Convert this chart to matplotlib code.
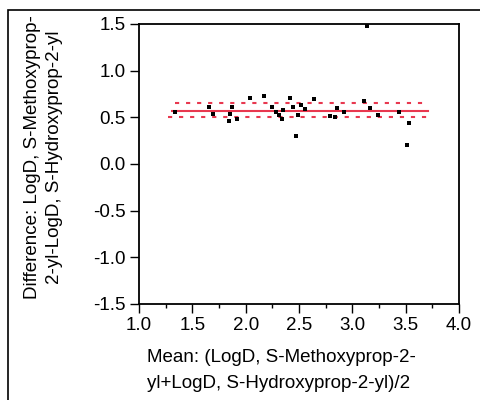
import matplotlib
matplotlib.use("Agg")
import matplotlib.pyplot as plt
from matplotlib.patches import Rectangle
from matplotlib.ticker import MultipleLocator

# Bland-Altman style data (mean vs difference of LogD)
mean_vals = [1.34, 1.66, 1.69, 1.84, 1.85, 1.87, 1.92, 2.04, 2.17, 2.25,
             2.28, 2.31, 2.34, 2.35, 2.42, 2.44, 2.47, 2.49, 2.52, 2.56,
             2.64, 2.79, 2.84, 2.86, 2.92, 3.11, 3.14, 3.17, 3.24, 3.44,
             3.53, 3.51]
diff_vals = [0.56, 0.61, 0.54, 0.46, 0.54, 0.61, 0.48, 0.71, 0.73, 0.61,
             0.56, 0.53, 0.48, 0.58, 0.71, 0.61, 0.30, 0.53, 0.63, 0.59,
             0.70, 0.51, 0.50, 0.60, 0.56, 0.68, 1.48, 0.60, 0.53, 0.56,
             0.44, 0.20]

bias = 0.571
ci_upper = 0.654
ci_lower = 0.504
bias_span = [1.31, 3.71]
upper_span = [1.34, 3.68]
lower_span = [1.27, 3.71]

red = '#e8384f'
plt.rcParams['font.family'] = ['Liberation Sans', 'DejaVu Sans']
fs = 13.5

fig = plt.figure(figsize=(4.8, 4.0), dpi=100)
ax = fig.add_axes([139/480, 96/400, 320/480, 280/400])

ax.plot(bias_span, [bias, bias], color=red, lw=1.5, zorder=2)
ax.plot(upper_span, [ci_upper, ci_upper], color=red, lw=1.5,
        linestyle=(0, (2, 3.3)), zorder=2)
ax.plot(lower_span, [ci_lower, ci_lower], color=red, lw=1.5,
        linestyle=(0, (2, 3.3)), zorder=2)
ax.plot(mean_vals, diff_vals, 's', color='black', markersize=3,
        markeredgewidth=0, zorder=3, clip_on=False)

ax.set_xlim(1.0, 4.0)
ax.set_ylim(-1.5, 1.5)
ax.xaxis.set_major_locator(MultipleLocator(0.5))
ax.xaxis.set_minor_locator(MultipleLocator(0.25))
ax.yaxis.set_major_locator(MultipleLocator(0.5))
ax.xaxis.set_major_formatter(plt.FormatStrFormatter('%.1f'))
ax.yaxis.set_major_formatter(plt.FormatStrFormatter('%.1f'))
ax.tick_params(which='major', direction='out', length=6.5, width=1.0,
               labelsize=fs, pad=3)
ax.tick_params(which='minor', direction='out', length=3, width=1.0)
ax.tick_params(axis='y', which='minor', left=False)
for s in ax.spines.values():
    s.set_linewidth(1.3)

# axis titles, placed line by line
fig.text(147/480, 1 - 357/400, 'Mean: (LogD, S-Methoxyprop-2-',
         ha='left', va='center', fontsize=fs)
fig.text(147/480, 1 - 384/400, 'yl+LogD, S-Hydroxyprop-2-yl)/2',
         ha='left', va='center', fontsize=fs)
fig.text(33/480, 1 - 157/400, 'Difference: LogD, S-Methoxyprop-',
         ha='center', va='center', rotation=90, fontsize=fs)
fig.text(55/480, 1 - 157/400, '2-yl-LogD, S-Hydroxyprop-2-yl',
         ha='center', va='center', rotation=90, fontsize=fs)

# outer frame
fig.patches.append(Rectangle((8/480, -0.05), 1.0, 1 - 10/400 + 0.05,
                             transform=fig.transFigure, fill=False,
                             edgecolor='black', lw=1.2))

fig.savefig('out.png', dpi=100)
